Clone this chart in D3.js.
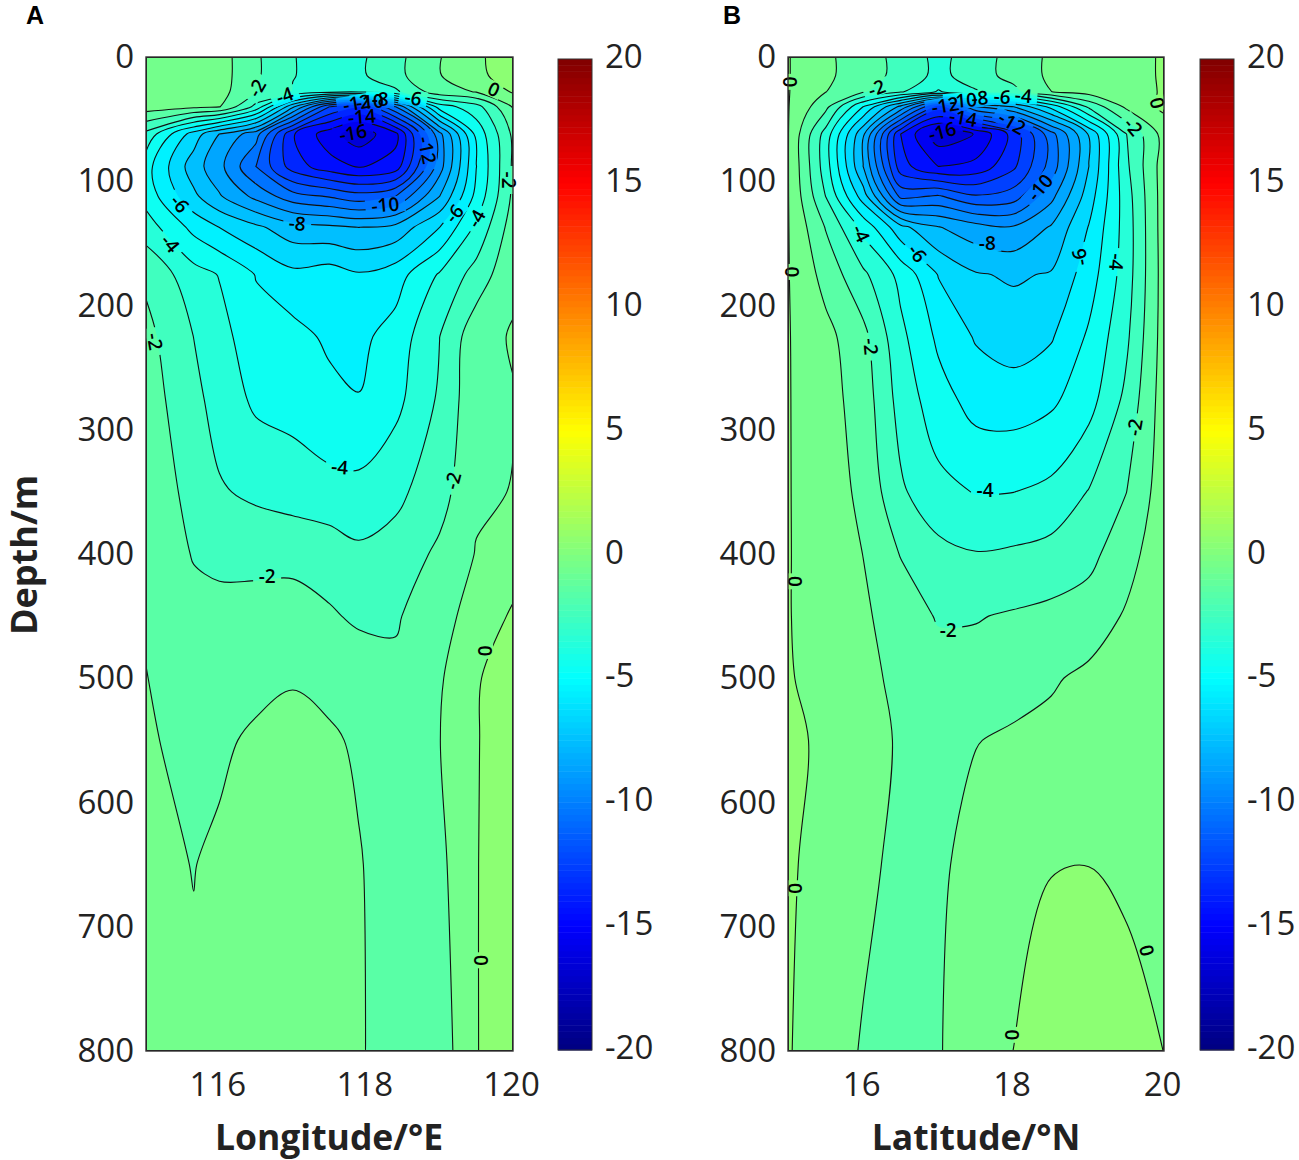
<!DOCTYPE html>
<html>
<head>
<meta charset="utf-8">
<script src="https://cdn.jsdelivr.net/npm/d3@7"></script>
<style>
html, body { margin: 0; padding: 0; background: #fff; }
svg { display: block; }
text { font-family: "Open Sans", sans-serif; fill: #222; }
</style>
</head>
<body>
<svg id="chart" width="1299" height="1160"></svg>
<script>
// depth rows shared by both sections (m)
var depthLevels = [0, 15, 28, 40, 62, 88, 112, 137, 175, 225, 275, 350, 400, 450, 500, 550, 650, 800];
var lonLevels = [115, 115.65, 116, 116.5, 117, 117.5, 117.9, 118.4, 119, 119.5, 120];
var latLevels = [15, 15.5, 16, 16.5, 17, 17.5, 18, 18.5, 19, 19.5, 20];

// one array per longitude, top to bottom
var sectionA = [
    [-0.6, -0.6, -0.6, -0.5, -3.3, -4.6, -4.4, -3.5, -2.2, -1.7, -1.5, -1.2, -1.12, -1.08, -0.98, -0.9, -0.8, -0.8],
    [-0.73, -0.73, -0.75, -0.78, -6.46, -7.54, -6.78, -5.3, -3.6, -3.01, -2.73, -2.38, -2.07, -1.65, -1.42, -1.25, -1.02, -0.88],
    [-0.55, -0.55, -0.6, -0.95, -8.01, -8.7, -7.9, -6.01, -4.05, -3.65, -3.4, -2.9, -2.35, -1.55, -1.35, -1.15, -0.85, -0.75],
    [-1.85, -1.85, -2.01, -3.3, -9.6, -11.02, -9.3, -6.8, -5.05, -4.6, -4.2, -3.2, -2.3, -1.6, -1.25, -0.85, -0.6, -0.6],
    [-2.97, -2.97, -3.05, -7.8, -13.9, -13.5, -10.6, -7.6, -5.75, -4.63, -4.35, -3.5, -2.2, -1.7, -1.07, -0.7, -0.55, -0.55],
    [-3.3, -3.3, -3.7, -12, -15.6, -14.6, -11.1, -7.8, -5.5, -5.2, -4.7, -3.7, -2.4, -1.9, -1.3, -0.85, -0.75, -0.72],
    [-3.2, -3.2, -3.9, -13.01, -16.6, -15.1, -11.6, -8.01, -5.9, -5.25, -4.97, -3.7, -2.8, -2.14, -1.5, -1.15, -0.93, -0.9],
    [-2.3, -2.3, -3.2, -10.01, -15.3, -14.6, -11.01, -7.7, -5.45, -4.6, -4.3, -3.25, -2.6, -2.1, -1.8, -1.6, -1.5, -1.45],
    [-1.05, -1.05, -1.4, -4.5, -9.3, -9.45, -8.01, -6.01, -3.9, -3.01, -2.85, -2.4, -1.8, -1.4, -1.12, -1.02, -1.25, -1.55],
    [-0.1, -0.15, -0.95, -3.4, -4.7, -5.02, -4.7, -3.8, -2.6, -1.35, -1.25, -1.15, -0.95, -0.55, -0.05, -0.04, -0.03, -0.03],
    [0.3, 0.3, 0.1, -0.9, -1.8, -1.85, -1.8, -1.5, -1.2, -0.92, -1.05, -0.97, -0.45, 0.12, 0.3, 0.4, 0.45, 0.45]
];

// one array per latitude, top to bottom
var sectionB = [
    [0.05, 0.05, 0.05, 0.05, 0.05, 0.05, 0.05, 0.05, 0.05, 0.05, 0.05, 0.05, 0.05, 0.05, 0.1, 0.3, 0.15, 0.05],
    [-0.8, -0.8, -0.98, -1.7, -3.4, -3.5, -3.01, -2.05, -1.35, -0.7, -0.6, -0.55, -0.5, -0.5, -0.45, -0.25, -0.4, -0.4],
    [-1.55, -1.55, -1.9, -5.01, -7.8, -8.01, -6.5, -4.3, -2.8, -1.7, -1.45, -1.2, -1.01, -0.87, -0.72, -0.65, -0.72, -1.1],
    [-2.3, -2.3, -2.9, -8.3, -14.01, -13.6, -11.3, -6.7, -4.3, -3.75, -3.4, -2.85, -2.05, -1.4, -1.25, -1.1, -1.3, -1.3],
    [-3.3, -3.3, -4.1, -12.5, -16.6, -15.01, -10.9, -7.95, -6.05, -5.2, -4.6, -3.7, -2.7, -2.1, -1.5, -1.3, -1.12, -1.05],
    [-2.45, -2.45, -3.1, -9.01, -15.95, -14.7, -11.9, -8.6, -6.92, -6.1, -5.4, -4.05, -2.95, -2.05, -1.65, -1.02, -0.75, -0.6],
    [-1.65, -1.65, -2.3, -8.01, -13.6, -13.2, -11.5, -8.9, -7.12, -6.5, -5.5, -4.01, -2.85, -1.9, -1.25, -0.9, -0.5, 0.01],
    [-0.8, -0.8, -1.01, -5.7, -10.4, -10.6, -9.3, -7.9, -6.92, -6.1, -5.2, -3.75, -2.65, -1.75, -1.1, -0.75, -0.03, 0.4],
    [-0.55, -0.55, -0.6, -2.8, -6.9, -7.01, -6.5, -5.95, -5.5, -4.85, -4.4, -2.95, -2.3, -1.5, -0.8, -0.45, -0.005, 0.45],
    [-0.35, -0.35, -0.45, -0.8, -3.01, -3.2, -3.45, -3.55, -3.5, -3.2, -2.75, -2.01, -1.35, -0.9, -0.6, -0.45, -0.18, 0.4],
    [0.1, 0.1, 0.1, 0.2, -0.6, -0.5, -0.5, -0.5, -0.55, -0.55, -0.5, -0.45, -0.4, -0.35, -0.3, -0.35, -0.35, -0.01]
];

var contourLevels = d3.range(-17, 2);
var depthTicks = [0, 100, 200, 300, 400, 500, 600, 700, 800];
var lonTicks = [116, 118, 120];
var latTicks = [16, 18, 20];
var colorTicks = [-20, -15, -10, -5, 0, 5, 10, 15, 20];

// text, longitude, depth, angle
var labelsA = [
    ["-2", 116.51, 25, -60], ["-4", 116.89, 31, -20], ["-6", 118.64, 33, 10], ["0", 119.74, 26, 25],
    ["-8", 118.19, 34, 0], ["-10", 118.05, 36, -5], ["-12", 117.87, 37, -10], ["-14", 117.94, 48, -5],
    ["-16", 117.82, 61, -10], ["-12", 118.83, 75, 78], ["-2", 119.95, 99, 90], ["-10", 118.26, 119, -5],
    ["-8", 117.06, 134, 5], ["-6", 115.46, 118, 50], ["-6", 119.2, 126, -50], ["-4", 119.5, 130, -60],
    ["-4", 115.33, 150, 50], ["-2", 115.12, 229, 80], ["-4", 117.64, 330, 5], ["-2", 119.18, 341, -75],
    ["-2", 116.65, 418, 0], ["0", 119.62, 478, -90], ["0", 119.56, 727, -90]
];

// text, latitude, depth, angle
var labelsB = [
    ["0", 15.03, 20, 90], ["-2", 16.18, 25, -20], ["-12", 17.09, 39, -10], ["-10", 17.33, 35, -5],
    ["-8", 17.55, 33, -5], ["-6", 17.85, 32, 5], ["-4", 18.13, 31, 5], ["0", 19.91, 37, 75],
    ["-2", 19.59, 56, 50], ["-14", 17.33, 49, 10], ["-16", 17.05, 60, -15], ["-12", 17.98, 53, 30],
    ["-10", 18.35, 105, -50], ["-8", 17.65, 150, 0], ["-6", 16.72, 158, 55], ["-4", 15.97, 142, 65],
    ["-6", 18.88, 161, -100], ["-4", 19.37, 165, 95], ["-2", 16.1, 233, 85], ["-2", 19.61, 298, -80],
    ["-4", 17.62, 349, 0], ["-2", 17.13, 461, 0], ["0", 15.05, 173, 90], ["0", 15.09, 422, 90],
    ["0", 15.09, 669, -90], ["0", 19.77, 719, 75], ["0", 17.98, 787, -90]
];

var svg = d3.select("#chart");

// same ramp as matlab's jet, range -20..20
function jet(v) {
    var t = (v + 20) / 40;
    function c(x) { return Math.round(255 * Math.max(0, Math.min(1, 1.5 - Math.abs(4 * t - x)))); }
    return "rgb(" + c(3) + "," + c(2) + "," + c(1) + ")";
}

function drawPanel(opts) {
    var x = d3.scaleLinear().domain(opts.domain).range([opts.left, opts.right]);
    var y = d3.scaleLinear().domain([0, 800]).range([opts.top, opts.bottom]);

    // d3.contours works on a regular grid, these map grid index back to data
    var colToX = d3.scaleLinear().domain(d3.range(opts.levels.length)).range(opts.levels).clamp(true);
    var rowToY = d3.scaleLinear().domain(d3.range(depthLevels.length)).range(depthLevels).clamp(true);

    var nx = opts.levels.length, ny = depthLevels.length;
    var flat = [];
    for (var r = 0; r < ny; r++) {
        for (var c = 0; c < nx; c++) {
            flat.push(opts.values[c][r]);
        }
    }

    var closedLine = d3.line().curve(d3.curveCatmullRomClosed.alpha(0.5));
    var openLine = d3.line().curve(d3.curveCatmullRom.alpha(0.5));

    function onEdge(p) {
        return p[0] <= opts.left + 0.01 || p[0] >= opts.right - 0.01 ||
            p[1] <= opts.top + 0.01 || p[1] >= opts.bottom - 0.01;
    }

    // rings that hit the frame are only smoothed between the frame points,
    // otherwise the curve curls where it turns along the edge
    function ringPath(pts) {
        var start = pts.findIndex(onEdge);
        if (start < 0) {
            return closedLine(pts);
        }
        var rot = pts.slice(start).concat(pts.slice(0, start + 1));
        var d = "M" + rot[0][0] + "," + rot[0][1];
        var run = [rot[0]];
        for (var i = 1; i < rot.length; i++) {
            run.push(rot[i]);
            if (onEdge(rot[i])) {
                d += openLine(run).replace(/^M[^A-Z]*/, "");
                run = [rot[i]];
            }
        }
        return d + "Z";
    }

    var bands = d3.contours().size([nx, ny]).thresholds(contourLevels)(flat);
    bands.forEach(function(b) {
        var parts = [];
        b.coordinates.forEach(function(poly) {
            poly.forEach(function(ring) {
                // last point repeats the first
                parts.push(ringPath(ring.slice(0, -1).map(function(p) {
                    return [x(colToX(p[0] - 0.5)), y(rowToY(p[1] - 0.5))];
                })));
            });
        });
        b.d = parts.join("");
    });

    var clipId = "clip" + opts.name, maskId = "mask" + opts.name;
    var defs = svg.append("defs");
    defs.append("clipPath").attr("id", clipId).append("rect")
        .attr("x", opts.left).attr("y", opts.top)
        .attr("width", opts.right - opts.left).attr("height", opts.bottom - opts.top);

    // gaps in the contour lines under the labels
    var mask = defs.append("mask").attr("id", maskId).attr("maskUnits", "userSpaceOnUse")
        .attr("x", opts.left).attr("y", opts.top)
        .attr("width", opts.right - opts.left).attr("height", opts.bottom - opts.top);
    mask.append("rect")
        .attr("x", opts.left).attr("y", opts.top)
        .attr("width", opts.right - opts.left).attr("height", opts.bottom - opts.top)
        .attr("fill", "#fff");
    mask.selectAll("rect.gap").data(opts.labels).enter().append("rect")
        .attr("class", "gap")
        .attr("x", function(d) { return -d[0].length * 6 - 2; })
        .attr("y", -8)
        .attr("width", function(d) { return d[0].length * 12 + 4; })
        .attr("height", 16)
        .attr("fill", "#000")
        .attr("transform", function(d) {
            return "translate(" + x(d[1]) + "," + y(d[2]) + ") rotate(" + d[3] + ")";
        });

    var plot = svg.append("g").attr("clip-path", "url(#" + clipId + ")");
    plot.append("rect")
        .attr("x", opts.left).attr("y", opts.top)
        .attr("width", opts.right - opts.left).attr("height", opts.bottom - opts.top)
        .attr("fill", jet(contourLevels[0] - 0.5));
    plot.selectAll("path.band").data(bands).enter().append("path")
        .attr("class", "band")
        .attr("d", function(d) { return d.d; })
        .attr("fill", function(d) { return jet(d.value + 0.5); });
    plot.append("g").attr("mask", "url(#" + maskId + ")")
        .selectAll("path").data(bands).enter().append("path")
        .attr("d", function(d) { return d.d; })
        .attr("fill", "none")
        .attr("stroke", "#111")
        .attr("stroke-width", 1.1);

    svg.append("g").selectAll("text").data(opts.labels).enter().append("text")
        .attr("transform", function(d) {
            return "translate(" + x(d[1]) + "," + y(d[2]) + ") rotate(" + d[3] + ")";
        })
        .attr("text-anchor", "middle")
        .attr("dy", "0.36em")
        .style("font-size", "19px")
        .style("font-weight", 600)
        .style("fill", "#000")
        .text(function(d) { return d[0]; });

    svg.append("rect")
        .attr("x", opts.left).attr("y", opts.top)
        .attr("width", opts.right - opts.left).attr("height", opts.bottom - opts.top)
        .attr("fill", "none").attr("stroke", "#333").attr("stroke-width", 1.4);

    var xAxis = d3.axisBottom(x).tickValues(opts.xTicks).tickSize(0).tickPadding(22)
        .tickFormat(function(d) { return String(d); });
    var gx = svg.append("g").attr("transform", "translate(-2," + opts.bottom + ")").call(xAxis);
    gx.select(".domain").remove();
    gx.selectAll("text").style("font-size", "33px");

    var yAxis = d3.axisLeft(y).tickValues(depthTicks).tickSize(0).tickPadding(12);
    var gy = svg.append("g").attr("transform", "translate(" + opts.left + ",0)").call(yAxis);
    gy.select(".domain").remove();
    gy.selectAll("text").style("font-size", "33px");

    svg.append("text")
        .attr("x", opts.titleX).attr("y", 1150)
        .attr("text-anchor", "middle")
        .style("font-size", "35.5px").style("font-weight", 700)
        .text(opts.xTitle);

    svg.append("text")
        .attr("x", opts.letterX).attr("y", 24)
        .style("font-family", "'Liberation Sans', sans-serif")
        .style("font-size", "25px").style("font-weight", 700)
        .style("fill", "#000")
        .text(opts.name);

    // colorbar
    var cbTop = 59, cbBottom = 1050;
    var cy = d3.scaleLinear().domain([-20, 20]).range([cbBottom, cbTop]);
    var steps = d3.range(-20, 20, 0.25);
    svg.append("g").selectAll("rect").data(steps).enter().append("rect")
        .attr("x", opts.cbLeft)
        .attr("width", 34)
        .attr("y", function(d) { return cy(d + 0.25); })
        .attr("height", function(d) { return cy(d) - cy(d + 0.25) + 0.5; })
        .attr("fill", function(d) { return jet(d + 0.125); });
    svg.append("rect")
        .attr("x", opts.cbLeft).attr("y", cbTop)
        .attr("width", 34).attr("height", cbBottom - cbTop)
        .attr("fill", "none").attr("stroke", "#333").attr("stroke-width", 1);
    var cAxis = d3.axisRight(cy).tickValues(colorTicks).tickSize(0).tickPadding(13)
        .tickFormat(function(d) { return String(d); });
    var gc = svg.append("g").attr("transform", "translate(" + (opts.cbLeft + 34) + ",-2)").call(cAxis);
    gc.select(".domain").remove();
    gc.selectAll("text").style("font-size", "33px");
}

drawPanel({
    name: "A", domain: [115, 120], levels: lonLevels, values: sectionA, labels: labelsA,
    left: 146, right: 513, top: 57, bottom: 1051,
    xTicks: lonTicks, xTitle: "Longitude/°E", titleX: 329, letterX: 26, cbLeft: 558
});

drawPanel({
    name: "B", domain: [15, 20], levels: latLevels, values: sectionB, labels: labelsB,
    left: 788, right: 1164, top: 57, bottom: 1051,
    xTicks: latTicks, xTitle: "Latitude/°N", titleX: 976, letterX: 723, cbLeft: 1200
});

svg.append("text")
    .attr("transform", "translate(37,555) rotate(-90)")
    .attr("text-anchor", "middle")
    .style("font-size", "36px").style("font-weight", 700)
    .text("Depth/m");
</script>
</body>
</html>
